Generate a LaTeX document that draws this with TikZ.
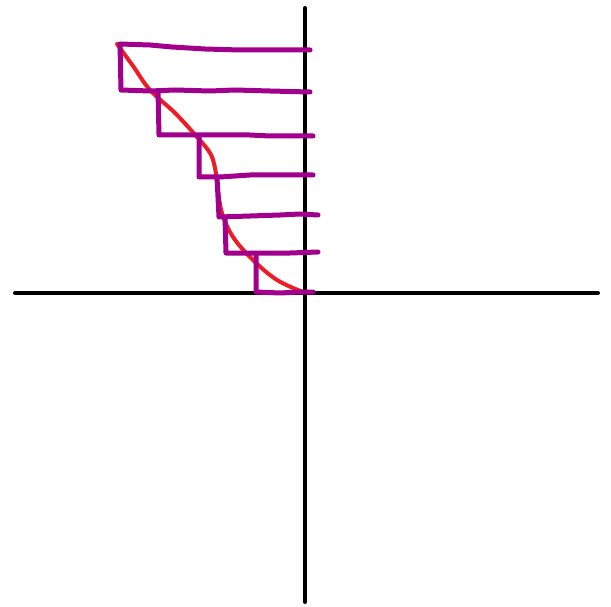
\documentclass[tikz,border=0pt]{standalone}
\definecolor{sketchpurple}{HTML}{A0008C}
\definecolor{sketchred}{HTML}{EE1C24}
\tikzset{
  axisline/.style={black, line width=4pt, line cap=round},
  curveline/.style={sketchred, line width=4pt, line cap=round, line join=round},
  stairline/.style={sketchpurple, line width=5pt, line cap=round, line join=round},
}
\begin{document}
\begin{tikzpicture}[x=1pt, y=-1pt]
\useasboundingbox (0,0) rectangle (611,607);
% axes
\draw[axisline] (305,8) -- (305,602);
\draw[axisline] (15,293) -- (598,293);
% red curve
\draw[curveline] plot[smooth, tension=0.6] coordinates {(117,44) (133,66) (150,90) (175,113) (197,137) (210,153) (215,168) (218,190) (222,213) (233,237) (253,260) (277,280) (303,292)};
% purple staircase
\draw[stairline] (310,50) -- (240,50) -- (205,49) -- (172,47) -- (150,45) -- (120,44) -- (121,90)
  -- (150,91) -- (175,90) -- (210,91) -- (235,90) -- (270,91) -- (310,92);
\draw[stairline] (158,91) -- (159,135) -- (200,135) -- (250,135) -- (270,136) -- (313,136);
\draw[stairline] (199,136) -- (199,177) -- (220,177) -- (250,175) -- (280,175) -- (313,175);
\draw[stairline] (217,177) -- (219,217) -- (250,216) -- (280,215) -- (300,214) -- (318,215);
\draw[stairline] (225,217) -- (226,253) -- (260,253) -- (290,253) -- (318,252);
\draw[stairline] (256,254) -- (256,292) -- (280,293) -- (300,292) -- (313,292);
\end{tikzpicture}
\end{document}
